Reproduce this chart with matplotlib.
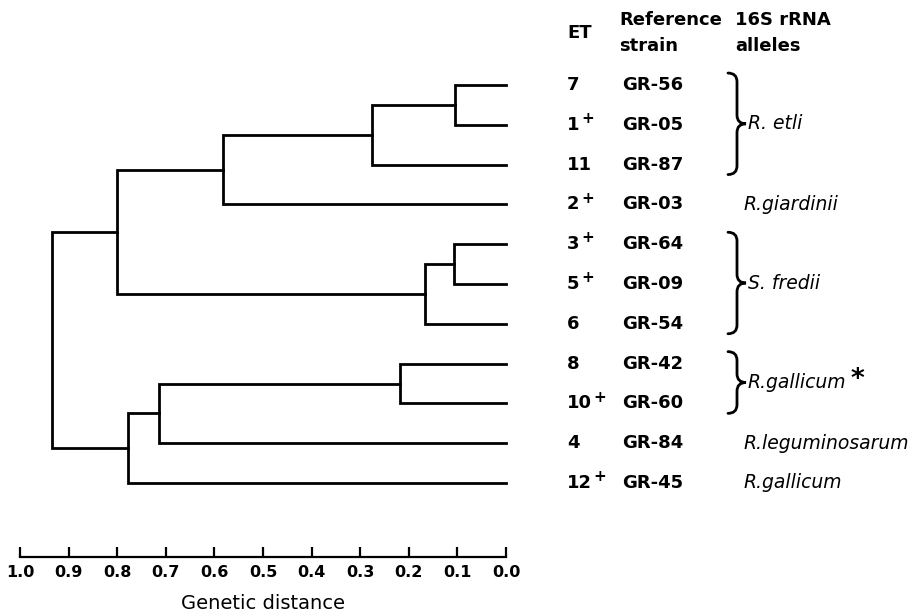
"""Dendrogram of electrophoretic types (ETs) with reference strains and 16S rRNA alleles."""

import matplotlib

matplotlib.use("Agg")
import matplotlib.pyplot as plt  # noqa: E402
import numpy as np  # noqa: E402
from matplotlib.patches import PathPatch  # noqa: E402
from matplotlib.path import Path  # noqa: E402
from matplotlib.transforms import blended_transform_factory  # noqa: E402

# leaves, top to bottom
et_numbers = ["7", "1", "11", "2", "3", "5", "6", "8", "10", "4", "12"]
et_plus = [False, True, False, True, True, True, False, False, True, False, True]
ref_strains = ["GR-56", "GR-05", "GR-87", "GR-03", "GR-64", "GR-09",
               "GR-54", "GR-42", "GR-60", "GR-84", "GR-45"]

# merges: ids < 11 are leaves, id 11 + k is merge k
merge_a = [0, 11, 12, 4, 14, 13, 7, 17, 18, 16]
merge_b = [1, 2, 3, 5, 6, 15, 8, 9, 10, 19]
merge_dist = [0.105, 0.276, 0.583, 0.107, 0.167, 0.801, 0.218, 0.714, 0.777, 0.935]

# 16S rRNA allele groups (first leaf, last leaf)
allele_first = [0, 3, 4, 7, 9, 10]
allele_last = [2, 3, 6, 8, 9, 10]
allele_names = ["R. etli", "R.giardinii", "S. fredii", "R.gallicum",
                "R.leguminosarum", "R.gallicum"]
allele_star = [False, False, False, True, False, False]

W, H = 914, 614
n_leaf = len(et_numbers)
# layout in pixels
x_one, x_zero = 20, 506        # 1.0 and 0.0 on the scale
y_axis = 557                   # scale bar line
leaf_top, leaf_bot = 85, 483   # first and last leaf
step = (leaf_bot - leaf_top) / (n_leaf - 1)

fig = plt.figure(figsize=(W / 100, H / 100), dpi=100)
ax = fig.add_axes([x_one / W, (H - y_axis) / H, (x_zero - x_one) / W, y_axis / H])
ax.set_xlim(1.0, 0.0)
ax.set_ylim((y_axis - leaf_top) / step, -leaf_top / step)

LW = 2.0
ys = list(range(n_leaf))
xs = [0.0] * n_leaf
for a, b, d in zip(merge_a, merge_b, merge_dist):
    ax.plot([xs[a], d, d, xs[b]], [ys[a], ys[a], ys[b], ys[b]],
            color="black", lw=LW, solid_joinstyle="miter", clip_on=False)
    xs.append(d)
    ys.append((ys[a] + ys[b]) / 2)

for side in ("top", "left", "right"):
    ax.spines[side].set_visible(False)
ax.spines["bottom"].set_linewidth(1.6)
ax.set_yticks([])
ticks = np.round(np.arange(0, 1.01, 0.1), 1)
ax.set_xticks(ticks)
ax.set_xticklabels([f"{t:.1f}" for t in ticks], fontweight="bold")
ax.set_xticks([0.0, 1.0], minor=True)
ax.tick_params(axis="x", which="major", direction="in", length=7.5, width=1.6,
               pad=6, labelsize=11.5)
ax.tick_params(axis="x", which="minor", direction="in", length=9.5, width=1.6)
ax.set_xlabel("Genetic distance", fontsize=14, labelpad=10)

# text columns: x in figure pixels, y in leaf units
tr = blended_transform_factory(fig.transFigure, ax.transData)
FS = 13
BW = "bold"
x_et, x_strain = 567, 622
for i in range(n_leaf):
    t = ax.text(x_et / W, i, et_numbers[i], transform=tr, fontsize=FS,
                fontweight=BW, ha="left", va="center")
    if et_plus[i]:
        ax.annotate("+", xy=(1, 0.85), xycoords=t, xytext=(1, 0),
                    textcoords="offset points", fontsize=11, fontweight=BW,
                    ha="left", va="center")
    ax.text(x_strain / W, i, ref_strains[i], transform=tr, fontsize=FS,
            fontweight=BW, ha="left", va="center")

fig.text(x_et / W, 1 - 33 / H, "ET", fontsize=FS, fontweight=BW, ha="left", va="center")
fig.text(619 / W, 1 - 20 / H, "Reference", fontsize=FS, fontweight=BW, ha="left", va="center")
fig.text(619 / W, 1 - 46 / H, "strain", fontsize=FS, fontweight=BW, ha="left", va="center")
fig.text(735 / W, 1 - 20 / H, "16S rRNA", fontsize=FS, fontweight=BW, ha="left", va="center")
fig.text(735 / W, 1 - 46 / H, "alleles", fontsize=FS, fontweight=BW, ha="left", va="center")


def right_brace(y0, y1, x_left=728, width=18):
    """Right curly brace between leaf positions y0 (top) and y1 (bottom)."""
    xl, xm, xt = x_left / W, (x_left + width / 2) / W, (x_left + width) / W
    ym = (y0 + y1) / 2
    r = 0.22
    verts = [(xl, y0), (xm, y0), (xm, y0 + r), (xm, ym - r), (xm, ym), (xt, ym),
             (xm, ym), (xm, ym + r), (xm, y1 - r), (xm, y1), (xl, y1)]
    codes = [Path.MOVETO, Path.CURVE3, Path.CURVE3, Path.LINETO, Path.CURVE3, Path.CURVE3,
             Path.CURVE3, Path.CURVE3, Path.LINETO, Path.CURVE3, Path.CURVE3]
    ax.add_patch(PathPatch(Path(verts, codes), transform=tr, fill=False,
                           lw=2.0, color="black", clip_on=False, capstyle="round"))
    return ym


for first, last, name, star in zip(allele_first, allele_last, allele_names, allele_star):
    if last > first:
        ym = right_brace(first - 0.3, last + 0.25)
        x_lab = 748
    else:
        ym = first
        x_lab = 744
    t = ax.text(x_lab / W, ym, name, transform=tr, fontsize=13.5, fontstyle="italic",
                ha="left", va="center")
    if star:
        ax.annotate("*", xy=(1, 0.62), xycoords=t, xytext=(3, 0),
                    textcoords="offset points", fontsize=19, fontweight=BW,
                    ha="left", va="center")

fig.savefig("out.png", dpi=100)
plt.close(fig)
